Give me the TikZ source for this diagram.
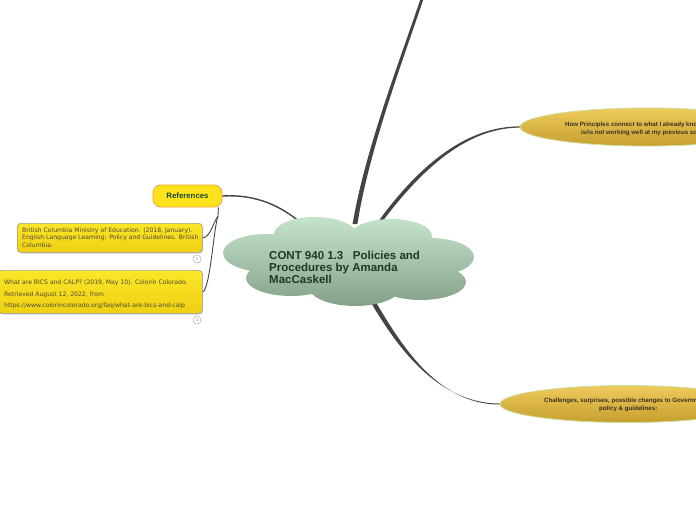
\documentclass[tikz,border=0pt]{standalone}
\usepackage{fontspec}
\setmainfont{Liberation Sans}
\newfontfamily\dvs{DejaVu Sans}
\usetikzlibrary{shapes.geometric,shadows,calc}
\definecolor{conn}{HTML}{444444}
\definecolor{cloudtop}{HTML}{C6E5CD}
\definecolor{cloudbot}{HTML}{849F88}
\definecolor{titlecol}{HTML}{1E3A22}
\definecolor{goldtop}{HTML}{EDCB5C}
\definecolor{goldmid}{HTML}{DDB646}
\definecolor{goldbot}{HTML}{C69F2F}
\definecolor{goldedge}{HTML}{CBDC9C}
\definecolor{goldtext}{HTML}{3A3120}
\definecolor{refyellow}{HTML}{FFE21B}
\definecolor{refedge}{HTML}{F2A33A}
\definecolor{reftext}{HTML}{1B4A2E}
\definecolor{bibtop}{HTML}{FBE628}
\definecolor{bibbot}{HTML}{EFD012}
\definecolor{bibedge}{HTML}{A09E8C}
\definecolor{bibtext}{HTML}{4E4A36}
\begin{document}
\begin{tikzpicture}[x=1pt,y=-1pt,
  goldnode/.style={ellipse, inner sep=0pt, draw=goldedge, line width=0.8pt,
    top color=goldtop, middle color=goldmid, bottom color=goldbot},
  goldlbl/.style={inner sep=0pt, anchor=base west, text=goldtext,
    font=\bfseries\fontsize{6.15}{8}\selectfont},
  refbox/.style={rectangle, rounded corners=8pt, fill=refyellow, draw=refedge,
    line width=0.8pt, minimum width=69pt, minimum height=22pt, inner sep=0pt,
    text=reftext, font=\bfseries\fontsize{7.8}{9}\selectfont},
  bibbox/.style={rectangle, rounded corners=3.5pt, draw=bibedge, line width=0.7pt,
    top color=bibtop, bottom color=bibbot, inner sep=0pt, anchor=north west,
    drop shadow={shadow xshift=0.8pt, shadow yshift=-1.2pt, opacity=0.35}},
  bibtxt/.style={inner sep=0pt, anchor=north west, align=left, text=bibtext},
  countmark/.style={circle, draw=gray!65, fill=white, line width=0.5pt,
    minimum size=8pt, inner sep=0pt, text=gray, font=\fontsize{4.5}{5}\selectfont},
  thinconn/.style={draw=conn, line width=0.9pt}
]
\useasboundingbox (0,0) rectangle (696,520);
\clip (0,0) rectangle (696,520);

% anchor points on the central cloud
\coordinate (cl1) at (355,224);
\coordinate (cl2) at (377,226);
\coordinate (cl3) at (372,300);
\coordinate (cl4) at (301,223);
\coordinate (topend) at (423,-4);

% right-hand topic ellipses
\node[goldnode, minimum width=254pt, minimum height=38pt] (p1) at (647,127) {};
\node[goldlbl] (p1a) at (565,126) {How Principles connect to what I already know and what};
\node[goldlbl] (p1b) at (581,134) {is/is not working well at my previous school};

\node[goldnode, minimum width=254pt, minimum height=37pt] (p2) at (627,404) {};
\node[goldlbl] (p2a) at (544,402.5) {Challenges, surprises, possible changes to Government};
\node[goldlbl] (p2b) at (599,410.5) {policy \& guidelines:};

% References and bibliography boxes
\node[refbox] (ref) at (187.5,196) {References};
\coordinate (rb) at (218,216);

\node[bibbox, minimum width=185pt, minimum height=29pt] (b1) at (17,223) {};
\node[bibtxt, font=\dvs\fontsize{6.1}{7.5}\selectfont] (b1t) at (22,227.6)
  {British Columbia Ministry of Education. (2018, January).\\
   English Language Learning: Policy and Guidelines. British\\
   Columbia.};
\node[bibbox, minimum width=204pt, minimum height=43pt] (b2) at (-2,270) {};
\node[bibtxt, font=\dvs\fontsize{6.1}{11.9}\selectfont] (b2t) at (4,279.1)
  {What are BICS and CALP? (2019, May 10). Colorín Colorado.\\
   Retrieved August 12, 2022, from\\
   https://www.colorincolorado.org/faq/what-are-bics-and-calp};
\node[countmark] (n1) at (197,259) {1};
\node[countmark] (n2) at (197,320) {1};

% connectors
\fill[conn] ($(cl1)+(-2.4,0)$) .. controls (365,150) and (400,60) .. ($(topend)+(-1.5,0)$)
  -- ($(topend)+(1.5,0)$) .. controls (403,60) and (369,150) .. ($(cl1)+(2.4,0)$) -- cycle;
\fill[conn] ($(cl2)+(-1.7,-0.5)$) .. controls (422,160) and (470,126.3) .. ($(p1.west)+(0,-0.6)$)
  -- ($(p1.west)+(0,0.6)$) .. controls (471,128) and (426,162) .. ($(cl2)+(1.7,0.5)$) -- cycle;
\fill[conn] ($(cl3)+(-2.6,0)$) .. controls (393,340) and (434,403.5) .. ($(p2.west)+(0,-0.5)$)
  -- ($(p2.west)+(0,0.5)$) .. controls (436,404.7) and (399,341) .. ($(cl3)+(2.6,0)$) -- cycle;
\draw[draw=conn, line width=1.4pt] (ref.east) .. controls (256,194) and (281,206) .. (cl4);
\draw[thinconn] ($(ref.south east)+(-4,0)$) -- (rb);
\draw[thinconn] (rb) .. controls (213,223) and (210,237.5) .. (b1.east);
\draw[thinconn] (rb) .. controls (214,226) and (210,290) .. (b2.east);

% central cloud
\begin{scope}
\clip (315,234) ellipse [x radius=41, y radius=17]
      (391,236) ellipse [x radius=41, y radius=17]
      (266,253) ellipse [x radius=43, y radius=19]
      (430,257) ellipse [x radius=44, y radius=19]
      (291,278) ellipse [x radius=45, y radius=18]
      (355,287) ellipse [x radius=46, y radius=19]
      (421,282) ellipse [x radius=45, y radius=18]
      (348,260) ellipse [x radius=105, y radius=30];
\shade[top color=cloudtop, bottom color=cloudbot] (220,215) rectangle (476,308);
\end{scope}
\node[inner sep=0pt, anchor=north west, align=left, text=titlecol,
  font=\bfseries\fontsize{11.5}{12}\selectfont] (title) at (269,251)
  {CONT 940 1.3\ \ \ Policies and\\Procedures by Amanda\\MacCaskell};
\end{tikzpicture}
\end{document}
